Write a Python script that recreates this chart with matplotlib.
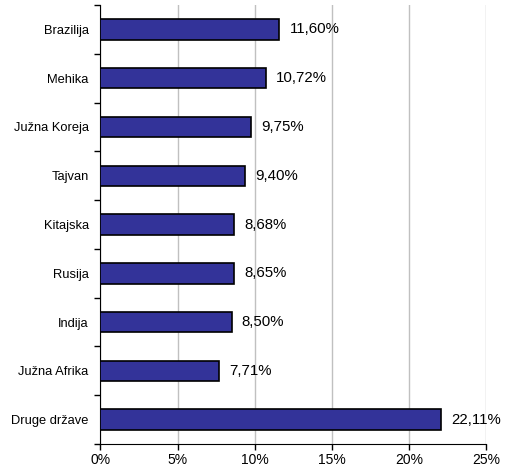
import matplotlib
matplotlib.use("Agg")
import matplotlib.pyplot as plt
import numpy as np

plt.rcParams['font.family'] = ['Liberation Sans', 'DejaVu Sans']

countries = ["Brazilija", "Mehika", "Južna Koreja", "Tajvan", "Kitajska",
             "Rusija", "Indija", "Južna Afrika", "Druge države"]
shares = [11.60, 10.72, 9.75, 9.40, 8.68, 8.65, 8.50, 7.71, 22.11]
xticks = [0, 5, 10, 15, 20, 25]

fig = plt.figure(figsize=(5.05, 4.70), dpi=100)
ax = fig.add_axes([0.199, 0.0553, 0.7634, 0.9340])

n = len(countries)
y = np.arange(n)[::-1]
ax.barh(y, shares, height=0.42, color="#333399", edgecolor="black", linewidth=1.2, zorder=3)

for yi, v in zip(y, shares):
    ax.text(v + 0.65, yi, f"{v:.2f}%".replace(".", ","), va="center", ha="left", fontsize=10.8)

ax.set_xlim(0, 25)
ax.set_ylim(-0.5, n - 0.5)
ax.set_xticks(xticks)
ax.set_xticklabels([f"{t}%" for t in xticks], fontsize=10)
ax.set_yticks(y)
ax.set_yticklabels(countries, fontsize=9.3)
ax.tick_params(axis="y", length=0, pad=8.5)
ax.set_yticks(np.arange(-0.5, n, 1.0), minor=True)
ax.tick_params(axis="y", which="minor", length=4, width=1, color="black", direction="out")
ax.tick_params(axis="x", length=4, width=1, direction="out", pad=2.5)

ax.grid(axis="x", color="#c0c0c0", linewidth=1, zorder=0)
for s in ["top", "right"]:
    ax.spines[s].set_visible(False)
ax.spines["left"].set_color("black")
ax.spines["bottom"].set_color("black")

fig.savefig("out.png", dpi=100)
